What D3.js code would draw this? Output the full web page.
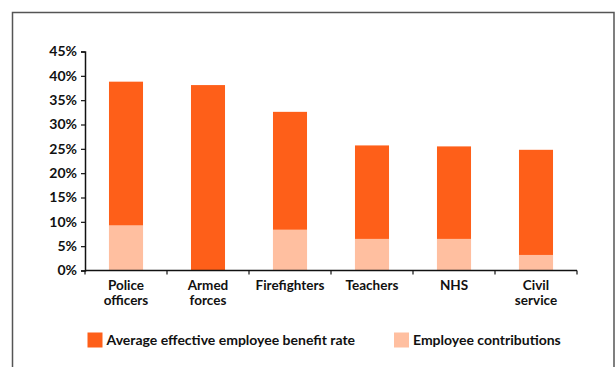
<!DOCTYPE html>
<html>
<head>
<meta charset="utf-8">
<script src="https://cdn.jsdelivr.net/npm/d3@7"></script>
<style>
  html, body { margin: 0; padding: 0; background: #fff; }
  svg { display: block; }
  text { font-family: "Lato", "Open Sans", sans-serif; font-weight: bold; fill: #111; }
</style>
</head>
<body>
<script>
// Public-sector pension schemes: effective benefit rate vs employee contributions
const categories = [["Police", "officers"], ["Armed", "forces"], ["Firefighters"], ["Teachers"], ["NHS"], ["Civil", "service"]];
const benefitRate = [38.8, 38.1, 32.6, 25.7, 25.5, 24.8];
const contributions = [9.3, 0, 8.4, 6.5, 6.5, 3.2];
const yTicks = [0, 5, 10, 15, 20, 25, 30, 35, 40, 45];
const seriesNames = ["Average effective employee benefit rate", "Employee contributions"];
const colors = ["#fe5f19", "#ffbfa0"];

const W = 616, H = 367;
const svg = d3.select("body").append("svg").attr("width", W).attr("height", H);

// Frame around the chart (open at the bottom)
svg.append("path")
  .attr("d", `M12.5,${H + 2}V12.5H614V${H + 2}`)
  .attr("fill", "none").attr("stroke", "#555").attr("stroke-width", 1.5);

const x0 = 85, x1 = 577, yTop = 51.5, yBot = 270.5;
const x = d3.scaleBand().domain(categories.map((d, i) => i)).range([x0, x1]).paddingInner(0.585).paddingOuter(0.2925);
const y = d3.scaleLinear().domain([0, 45]).range([yBot, yTop]);

const g = svg.append("g");

// Total benefit rate bars
g.selectAll("rect.total").data(benefitRate).join("rect")
  .attr("class", "total")
  .attr("x", (d, i) => x(i)).attr("width", x.bandwidth())
  .attr("y", d => y(d)).attr("height", d => y(0) - y(d))
  .attr("fill", colors[0]);

// Employee contribution portion
g.selectAll("rect.contrib").data(contributions).join("rect")
  .attr("class", "contrib")
  .attr("x", (d, i) => x(i)).attr("width", x.bandwidth())
  .attr("y", d => y(d)).attr("height", d => y(0) - y(d))
  .attr("fill", colors[1]);

// Y axis
const yAxis = g.append("g").attr("transform", `translate(${x0},0)`)
  .call(d3.axisLeft(y).tickValues(yTicks).tickFormat(d => d + "%").tickSize(4).tickPadding(4));
yAxis.select(".domain").attr("stroke", "#111").attr("stroke-width", 1.5);
yAxis.selectAll(".tick line").attr("stroke", "#111").attr("stroke-width", 1.2);
yAxis.selectAll("text").attr("font-size", 14).attr("font-family", "Lato, sans-serif").attr("font-weight", "bold").attr("fill", "#111");

// X axis with ticks at category boundaries
const boundaries = d3.range(categories.length + 1).map(i => x0 + (x1 - x0) * i / categories.length);
const xAxisG = g.append("g");
xAxisG.append("line").attr("x1", x0).attr("x2", x1).attr("y1", yBot).attr("y2", yBot)
  .attr("stroke", "#111").attr("stroke-width", 1.5);
xAxisG.selectAll("line.tk").data(boundaries).join("line").attr("class", "tk")
  .attr("x1", d => d).attr("x2", d => d).attr("y1", yBot).attr("y2", yBot + 4)
  .attr("stroke", "#111").attr("stroke-width", 1.2);

// Category labels, one text element per line
const catLines = categories.flatMap((lines, i) => lines.map((t, j) => ({ t, i, j })));
g.selectAll("text.cat").data(catLines).join("text").attr("class", "cat")
  .attr("text-anchor", "middle").attr("font-size", 13.5)
  .attr("x", d => x(d.i) + x.bandwidth() / 2)
  .attr("y", d => yBot + 19 + d.j * 15)
  .text(d => d.t);

// Legend
const legendX = [87.5, 394];
const leg = svg.selectAll("g.leg").data(seriesNames).join("g").attr("class", "leg")
  .attr("transform", (d, i) => `translate(${legendX[i]},332.5)`);
leg.append("rect").attr("width", 15).attr("height", 15).attr("fill", (d, i) => colors[i]);
leg.append("text").attr("x", 19).attr("y", 12.5).attr("font-size", 14).text(d => d);
</script>
</body>
</html>
